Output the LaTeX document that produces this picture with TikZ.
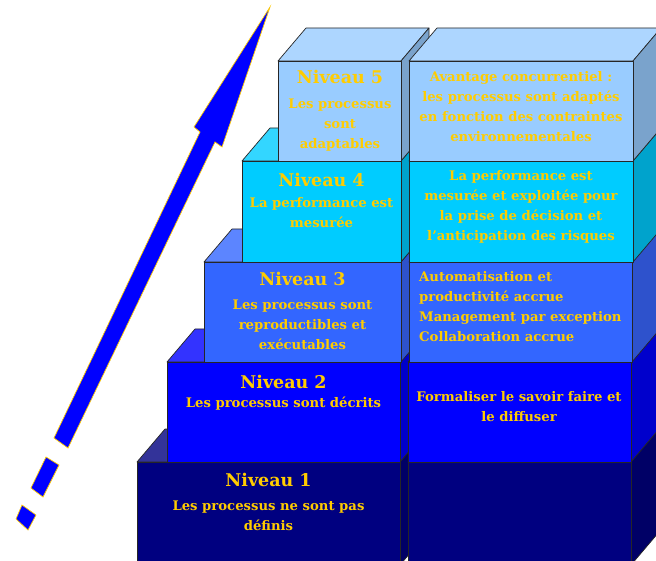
\documentclass[tikz,border=0pt]{standalone}
\usepackage{fontspec}
\setmainfont{DejaVu Serif}
\definecolor{gold}{HTML}{FFCC00}
\definecolor{fA}{HTML}{000080}\definecolor{tA}{HTML}{333399}\definecolor{sA}{HTML}{000066}
\definecolor{fB}{HTML}{0000FF}\definecolor{tB}{HTML}{3333FF}\definecolor{sB}{HTML}{0000CC}
\definecolor{fC}{HTML}{3366FF}\definecolor{tC}{HTML}{5C85FF}\definecolor{sC}{HTML}{2E52CC}
\definecolor{fD}{HTML}{00CCFF}\definecolor{tD}{HTML}{33D6FF}\definecolor{sD}{HTML}{00A3CC}
\definecolor{fE}{HTML}{99CCFF}\definecolor{tE}{HTML}{ADD6FF}\definecolor{sE}{HTML}{7AA3CC}
\definecolor{arrowblue}{HTML}{0000FF}
\newcommand{\cubebox}[7]{%
  \filldraw[boxline, fill=#6] (#1,#2) -- (#1+28,#2-33) -- (#3+28,#2-33) -- (#3,#2) -- cycle;
  \filldraw[boxline, fill=#7] (#3,#2) -- (#3+28,#2-33) -- (#3+28,#4-33) -- (#3,#4) -- cycle;
  \filldraw[boxline, fill=#5] (#1,#2) rectangle (#3,#4);
}
\begin{document}
\begin{tikzpicture}[x=1pt,y=-1pt,
  boxline/.style={draw=black!85, line width=0.7pt, line join=round},
  title/.style={text=gold, inner sep=0pt, font=\bfseries\fontsize{17.5}{20}\selectfont},
  body/.style={text=gold, inner sep=0pt, align=center, font=\bfseries\fontsize{13.2}{20}\selectfont},
  bodyl/.style={text=gold, inner sep=0pt, align=left, font=\bfseries\fontsize{13.2}{20}\selectfont},
  arrowpart/.style={fill=arrowblue, draw=gold, line width=0.7pt, line join=miter}]
\useasboundingbox (0,0) rectangle (656,561);
\clip (0,0) rectangle (656,561);
% arrow
\filldraw[arrowpart] (270,7) -- (222,147) -- (215,142) -- (68,448) -- (54,438) -- (200,132) -- (194,127) -- cycle;
\filldraw[arrowpart] (46,457) -- (59,465) -- (43,497) -- (31,488) -- cycle;
\filldraw[arrowpart] (22,505) -- (36,515) -- (28,530) -- (16,519) -- cycle;
% level 1
\cubebox{137}{462}{400}{565}{fA}{tA}{sA}
\cubebox{408}{462}{631}{565}{fA}{tA}{sA}
% level 2
\cubebox{167}{362}{400}{462}{fB}{tB}{sB}
\cubebox{408}{362}{631}{462}{fB}{tB}{sB}
% level 3
\cubebox{204}{262}{401}{362}{fC}{tC}{sC}
\cubebox{409}{262}{632}{362}{fC}{tC}{sC}
% level 4
\cubebox{242}{161}{401}{262}{fD}{tD}{sD}
\cubebox{409}{161}{633}{262}{fD}{tD}{sD}
% level 5
\cubebox{278}{61}{401}{161}{fE}{tE}{sE}
\cubebox{409}{61}{633}{161}{fE}{tE}{sE}
% texts
\node[title] (t5) at (340,77) {Niveau 5};
\node[body] (b5) at (340,125) {Les processus\\sont\\adaptables};
\node[body] (r5) at (521,107) {Avantage concurrentiel :\\les processus sont adaptés\\en fonction des contraintes\\environnementales};
\node[title] (t4) at (321.5,180) {Niveau 4};
\node[body] (b4) at (321.5,213) {La performance est\\mesurée};
\node[body] (r4) at (521,206.5) {La performance est\\mesurée et exploitée pour\\la prise de décision et\\l’anticipation des risques};
\node[title] (t3) at (302.5,279) {Niveau 3};
\node[body] (b3) at (302.5,325) {Les processus sont\\reproductibles et\\exécutables};
\node[bodyl, anchor=west] (r3) at (419,307) {Automatisation et\\productivité accrue\\Management par exception\\Collaboration accrue};
\node[title] (t2) at (283.5,382) {Niveau 2};
\node[body] (b2) at (283.5,404) {Les processus sont décrits};
\node[body] (r2) at (519,407) {Formaliser le savoir faire et\\le diffuser};
\node[title] (t1) at (268.5,480) {Niveau 1};
\node[body] (b1) at (268.5,515.5) {Les processus ne sont pas\\définis};
\end{tikzpicture}
\end{document}
